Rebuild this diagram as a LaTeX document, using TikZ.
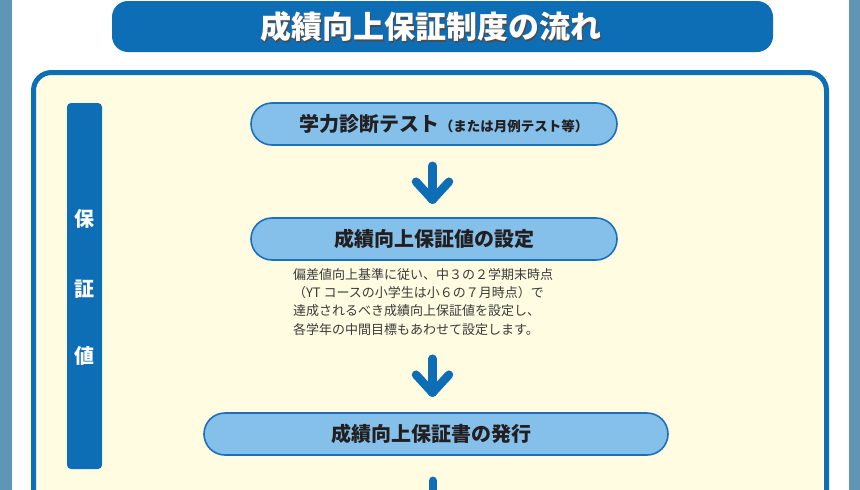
\documentclass[tikz,border=0pt]{standalone}
\usepackage{fontspec}
\setmainfont{Noto Sans CJK JP}
\usetikzlibrary{calc}
\definecolor{mainblue}{HTML}{0D6EB5}
\definecolor{boxfill}{HTML}{84C0EA}
\definecolor{boxline}{HTML}{1B70B8}
\definecolor{panelfill}{HTML}{FFFCE2}
\definecolor{strip}{HTML}{5F96B6}
\definecolor{ink}{HTML}{231F20}
\definecolor{descink}{HTML}{3A3A3A}
\tikzset{
  stepbox/.style={draw=boxline, line width=1.6pt, fill=boxfill, rounded corners=21pt,
    minimum height=42pt, inner sep=0pt, text=ink, font=\bfseries\fontsize{20}{24}\selectfont},
  flow/.style={draw=mainblue, line width=8.5pt, line cap=round, line join=round},
  sidechar/.style={text=white, font=\bfseries\fontsize{20}{23}\selectfont, inner sep=0pt},
}
\begin{document}
\begin{tikzpicture}[x=1pt, y=-1pt]
\useasboundingbox (0,0) rectangle (860,490);
\clip (0,0) rectangle (860,490);
% side strips
\fill[strip] (0,0) rectangle (11.5,490);
\fill[strip] (848.5,0) rectangle (860,490);
% title banner
\fill[mainblue, rounded corners=16pt] (112,1) rectangle (773,52);
\node[text=black!70, font=\bfseries\fontsize{31}{34}\selectfont, inner sep=0pt] (titleshadow) at (431.8,28.3) {成績向上保証制度の流れ};
\node[text=white, font=\bfseries\fontsize{31}{34}\selectfont, inner sep=0pt] (title) at (430.5,27) {成績向上保証制度の流れ};
% panel
\draw[mainblue, line width=5pt, fill=panelfill, rounded corners=18pt] (33.5,72.5) rectangle (826.5,540);
% side bar
\fill[mainblue, rounded corners=4pt] (67,103) rectangle (102,469);
\node[sidechar] (s1) at (84.5,219) {保};
\node[sidechar] (s2) at (84.5,289) {証};
\node[sidechar] (s3) at (84.5,356) {値};
% boxes
\node[stepbox, minimum width=366pt] (b1) at (434,124) {\hspace*{20pt}学力診断テスト{\fontsize{13.5}{16}\selectfont （または月例テスト等）}};
\node[stepbox, minimum width=366pt] (b2) at (434,239) {成績向上保証値の設定};
\node[stepbox, minimum width=464pt] (b3) at (436,434) {成績向上保証書の発行\hspace*{10pt}};
% description
\node[anchor=north west, inner sep=0pt, align=left, text=descink,
      font=\fontsize{13}{18.4}\selectfont] (desc) at (293,268) {偏差値向上基準に従い、中３の２学期末時点\\（YT コースの小学生は小６の７月時点）で\\達成されるべき成績向上保証値を設定し、\\各学年の中間目標もあわせて設定します。};
% arrows
\coordinate (a1s) at ($(b1.south)+(-1.5,20)$);
\coordinate (a1e) at ($(b2.north)+(-1.5,-17.5)$);
\draw[flow] (a1s) -- (a1e);
\draw[flow] ($(a1e)+(-16.5,-18)$) -- (a1e) -- ($(a1e)+(16.5,-18)$);
\coordinate (a2e) at ($(b3.north)+(-3.5,-19.5)$);
\coordinate (a2s) at ($(a2e)+(0,-34)$);
\draw[flow] (a2s) -- (a2e);
\draw[flow] ($(a2e)+(-16.5,-18)$) -- (a2e) -- ($(a2e)+(16.5,-18)$);
\coordinate (a3s) at ($(b3.south)+(-3,25)$);
\coordinate (a3e) at ($(a3s)+(0,40)$);
\draw[flow] (a3s) -- (a3e);
\end{tikzpicture}
\end{document}
